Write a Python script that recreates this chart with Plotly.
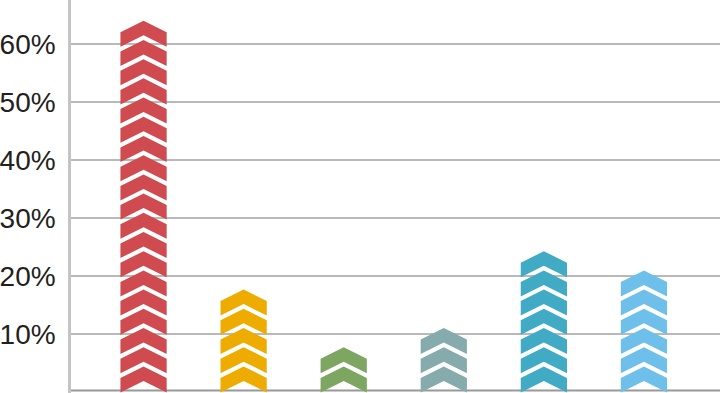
import plotly.graph_objects as go

# ---- data ----
categories = ["A", "B", "C", "D", "E", "F"]
values = [63.9, 17.8, 8.2, 11.4, 24.4, 21.1]          # percent
colors = ["#D04B4F", "#EEAB00", "#7DA660", "#86ABAD", "#41ABC6", "#6EC0EB"]
tick_vals = [10, 20, 30, 40, 50, 60]
tick_text = ["10%", "20%", "30%", "40%", "50%", "60%"]

# ---- chevron symbol geometry (style, in axis units) ----
PERIOD = 3.307     # repeat step of chevrons
BODY = 2.497       # vertical thickness of a chevron
TIP = 1.981        # height of the pointed tip / notch
HALF_W = 0.231     # half of the bar width (category units)

fig = go.Figure()

for i, (v, c) in enumerate(zip(values, colors)):
    n = max(1, round((v - BODY - TIP) / PERIOD) + 1)
    xs, ys = [], []
    for k in range(n):
        y0 = k * PERIOD
        px = [i - HALF_W, i, i + HALF_W, i + HALF_W, i, i - HALF_W, i - HALF_W]
        py = [y0, y0 + TIP, y0, y0 + BODY, y0 + BODY + TIP, y0 + BODY, y0]
        xs += px + [None]
        ys += py + [None]
    fig.add_trace(go.Scatter(
        x=xs, y=ys, mode="lines", fill="toself", fillcolor=c,
        line=dict(width=0, color=c), hoverinfo="skip", showlegend=False,
        name=categories[i],
    ))

# bottom axis line (decoration)
fig.add_shape(type="line", xref="paper", x0=0, x1=1, yref="y", y0=0.33, y1=0.33,
              line=dict(color="#999999", width=2), layer="below")

fig.update_layout(
    width=720, height=393,
    margin=dict(l=67, r=0, t=0, b=0),
    paper_bgcolor="white", plot_bgcolor="white",
    xaxis=dict(visible=False, range=[-0.725, 5.760]),
    yaxis=dict(
        range=[-0.10, 67.58],
        tickvals=tick_vals, ticktext=tick_text,
        showgrid=True, gridcolor="#b9b9b9", gridwidth=2,
        zeroline=False,
        showline=True, linecolor="#c4c4c4", linewidth=2.5,
        ticks="", ticklabelstandoff=7,
        tickfont=dict(family="Liberation Sans, Arial, sans-serif", size=28, color="#231f20"),
    ),
)

fig.write_html(
    "out.html",
    config={"displayModeBar": False},
    post_script="document.body.style.margin='0';document.body.style.overflow='hidden';",
)
